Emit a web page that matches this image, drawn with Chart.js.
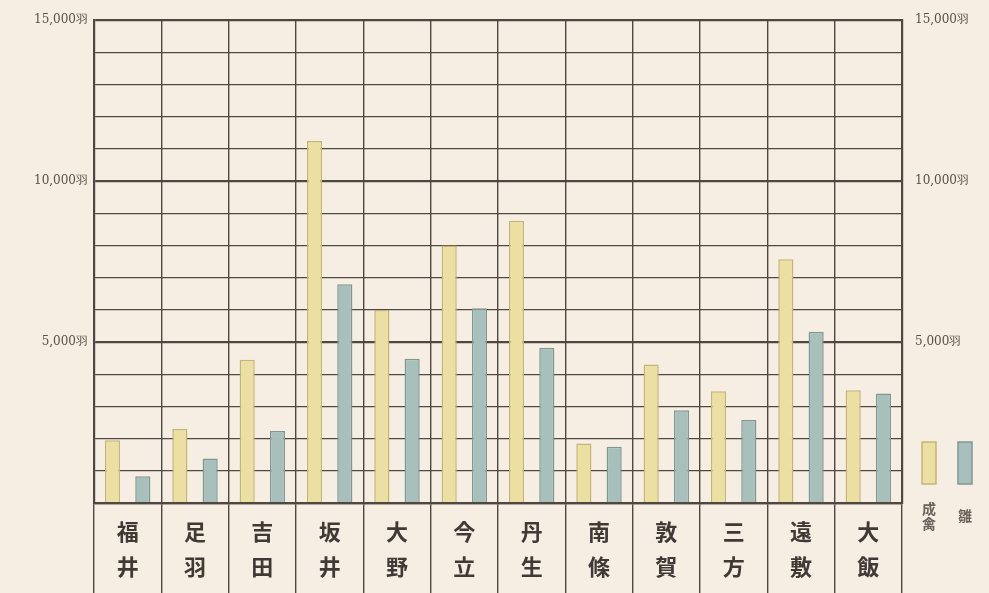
<!DOCTYPE html>
<html>
<head>
<meta charset="utf-8">
<script src="https://cdn.jsdelivr.net/npm/chart.js@4"></script>
<style>
  html, body { margin: 0; padding: 0; background: #f6eee3; overflow: hidden; }
  #wrap { width: 989px; height: 593px; position: relative; }
</style>
</head>
<body>
<div id="wrap"><canvas id="myChart" width="989" height="593"></canvas></div>
<script>
// districts (two characters, stacked vertically)
const categories = [
  ['福', '井'], ['足', '羽'], ['吉', '田'], ['坂', '井'], ['大', '野'], ['今', '立'],
  ['丹', '生'], ['南', '條'], ['敦', '賀'], ['三', '方'], ['遠', '敷'], ['大', '飯']
];
// 成禽 (adult birds) and 雛 (chicks), in 羽
const adultBirds = [1950, 2300, 4450, 11250, 6000, 8000, 8770, 1850, 4300, 3470, 7570, 3500];
const chicks = [830, 1380, 2240, 6800, 4480, 6050, 4820, 1750, 2880, 2580, 5320, 3400];
const labeledTicks = [5000, 10000, 15000];
const seriesNames = [['成', '禽'], ['雛']];

const lineColor = '#4f4740';
const textColor = '#5a5048';

function tickText(value) {
  if (!labeledTicks.includes(value)) return '';
  return value.toLocaleString('en-US') + '羽';
}

function gridWidth(ctx) {
  if (ctx.tick && ctx.tick.value % 5000 === 0) return 2.2;
  return 1.3;
}

// small legend to the right of the plot
const sideLegend = {
  id: 'sideLegend',
  afterDraw(chart) {
    const c = chart.ctx;
    const sets = chart.data.datasets;
    const xs = [922, 958];
    c.save();
    sets.forEach((ds, i) => {
      c.fillStyle = ds.backgroundColor;
      c.strokeStyle = ds.borderColor;
      c.lineWidth = 1.5;
      c.fillRect(xs[i], 442, 14, 42);
      c.strokeRect(xs[i], 442, 14, 42);
      c.fillStyle = '#6b625b';
      c.font = 'bold 14px "Noto Sans CJK JP"';
      c.textAlign = 'center';
      c.textBaseline = 'middle';
      const name = seriesNames[i];
      const y0 = name.length > 1 ? 509 : 516;
      name.forEach((ch, k) => c.fillText(ch, xs[i] + 7, y0 + k * 15));
    });
    c.restore();
  }
};

const bgPlugin = {
  id: 'bg',
  beforeDraw(chart) {
    const c = chart.ctx;
    c.save();
    c.fillStyle = '#f6eee3';
    c.fillRect(0, 0, chart.width, chart.height);
    c.restore();
  }
};

new Chart(document.getElementById('myChart'), {
  type: 'bar',
  data: {
    labels: categories,
    datasets: [
      {
        label: '成禽',
        data: adultBirds,
        backgroundColor: '#ebe0a2',
        borderColor: '#c4b577',
        borderWidth: 1.5,
        categoryPercentage: 0.9,
        barPercentage: 0.5
      },
      {
        label: '雛',
        data: chicks,
        backgroundColor: '#a8c0bb',
        borderColor: '#7f9894',
        borderWidth: 1.5,
        categoryPercentage: 0.9,
        barPercentage: 0.5
      }
    ]
  },
  options: {
    responsive: false,
    animation: false,
    devicePixelRatio: 1,
    layout: { padding: { top: 18, bottom: 0, left: 0, right: 0 } },
    plugins: {
      legend: { display: false },
      tooltip: { enabled: false }
    },
    scales: {
      x: {
        grid: {
          color: lineColor,
          lineWidth: 1.4,
          tickLength: 90,
          tickColor: lineColor,
          tickWidth: 1.4,
          offset: true
        },
        border: { display: true, color: lineColor, width: 2.2 },
        ticks: {
          color: '#403935',
          font: { family: '"Noto Sans CJK JP"', size: 22, weight: 'bold', lineHeight: 1.55 },
          padding: -78,
          maxRotation: 0,
          autoSkip: false
        },
        afterFit(scale) { scale.height = 90; }
      },
      y: {
        position: 'left',
        min: 0,
        max: 15000,
        grid: { color: lineColor, lineWidth: gridWidth, drawTicks: false },
        border: { display: true, color: lineColor, width: 2.2 },
        ticks: {
          stepSize: 1000,
          padding: 6,
          color: textColor,
          font: { family: '"DejaVu Serif"', size: 12 },
          callback: tickText
        },
        afterFit(scale) { scale.width = 94; }
      },
      y2: {
        position: 'right',
        min: 0,
        max: 15000,
        grid: { display: false, drawTicks: false },
        border: { display: true, color: lineColor, width: 2.2 },
        ticks: {
          stepSize: 1000,
          padding: 13,
          color: textColor,
          font: { family: '"DejaVu Serif"', size: 12 },
          callback: tickText
        },
        afterFit(scale) { scale.width = 87; }
      }
    }
  },
  plugins: [bgPlugin, sideLegend]
});
</script>
</body>
</html>
